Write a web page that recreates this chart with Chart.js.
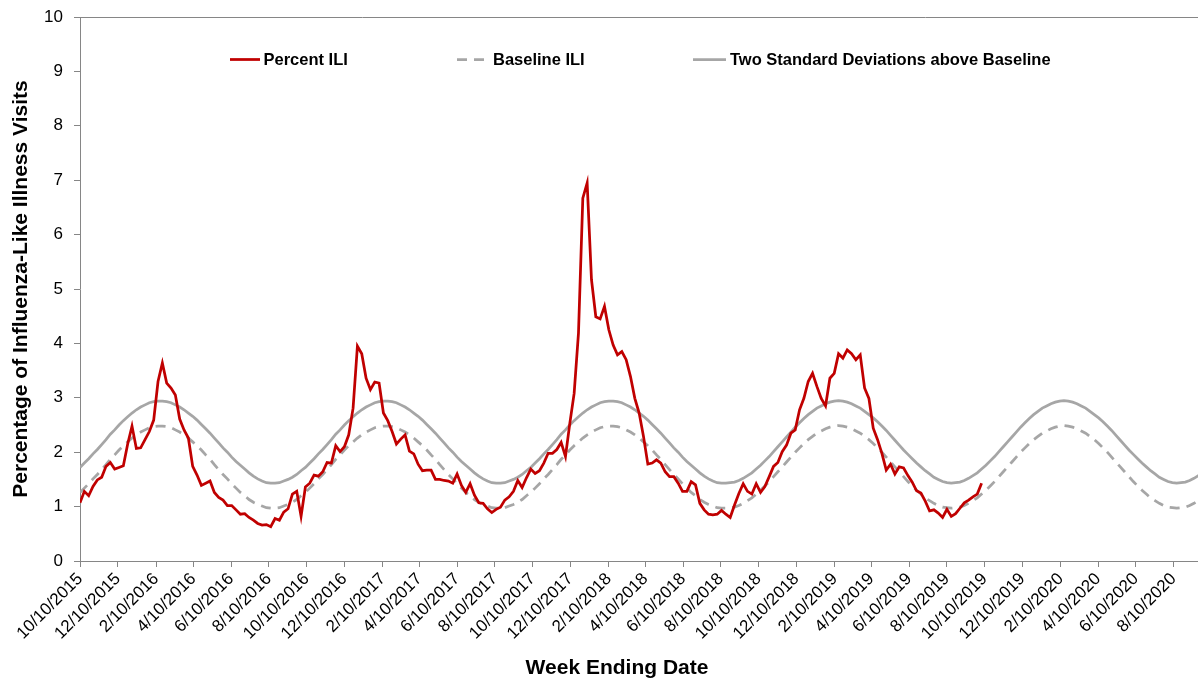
<!DOCTYPE html>
<html>
<head>
<meta charset="utf-8">
<title>Percentage of Influenza-Like Illness Visits</title>
<script src="https://cdn.jsdelivr.net/npm/chart.js@4.4.1/dist/chart.umd.min.js"></script>
<style>
  html, body { margin: 0; padding: 0; background: #ffffff; overflow: hidden; }
  #wrap { position: relative; width: 1198px; height: 680px; overflow: hidden; }
  canvas { display: block; }
</style>
</head>
<body>
<div id="wrap"><canvas id="ili" width="1217" height="680" style="width:1217px;height:680px"></canvas></div>
<script>
// First week-ending date of the weekly series; every following point is 7 days later.
const firstWeekEnding = '10/10/2015';
const lastAxisWeek = 260;

// Date labels shown on the horizontal axis.
const tickLabels = [
  '10/10/2015', '12/10/2015', '2/10/2016', '4/10/2016', '6/10/2016', '8/10/2016',
  '10/10/2016', '12/10/2016', '2/10/2017', '4/10/2017', '6/10/2017', '8/10/2017',
  '10/10/2017', '12/10/2017', '2/10/2018', '4/10/2018', '6/10/2018', '8/10/2018',
  '10/10/2018', '12/10/2018', '2/10/2019', '4/10/2019', '6/10/2019', '8/10/2019',
  '10/10/2019', '12/10/2019', '2/10/2020', '4/10/2020', '6/10/2020', '8/10/2020'
];

// Weekly percentage of visits for influenza-like illness.
const percentIli = [
  1.07, 1.28, 1.20, 1.37, 1.49, 1.54, 1.74, 1.81, 1.69, 1.72,
  1.75, 2.15, 2.48, 2.07, 2.08, 2.23, 2.38, 2.59, 3.30, 3.64,
  3.27, 3.18, 3.05, 2.61, 2.41, 2.26, 1.74, 1.58, 1.39, 1.43,
  1.47, 1.26, 1.17, 1.12, 1.02, 1.02, 0.94, 0.86, 0.87, 0.80,
  0.75, 0.69, 0.66, 0.67, 0.63, 0.78, 0.75, 0.90, 0.96, 1.23,
  1.28, 0.82, 1.36, 1.43, 1.58, 1.56, 1.64, 1.81, 1.80, 2.12,
  2.01, 2.10, 2.32, 2.81, 3.95, 3.81, 3.36, 3.15, 3.29, 3.27,
  2.72, 2.58, 2.38, 2.15, 2.24, 2.32, 2.02, 1.97, 1.78, 1.66,
  1.67, 1.67, 1.50, 1.50, 1.48, 1.47, 1.43, 1.60, 1.39, 1.26,
  1.42, 1.21, 1.07, 1.06, 0.96, 0.89, 0.95, 0.99, 1.12, 1.18,
  1.28, 1.48, 1.35, 1.53, 1.69, 1.61, 1.66, 1.80, 1.98, 1.98,
  2.05, 2.18, 1.92, 2.53, 3.08, 4.19, 6.67, 6.95, 5.17, 4.49,
  4.45, 4.68, 4.25, 3.97, 3.79, 3.85, 3.70, 3.39, 2.99, 2.72,
  2.29, 1.78, 1.80, 1.86, 1.80, 1.64, 1.55, 1.55, 1.43, 1.28,
  1.28, 1.46, 1.40, 1.06, 0.94, 0.86, 0.85, 0.86, 0.93, 0.86,
  0.80, 1.03, 1.24, 1.42, 1.28, 1.23, 1.42, 1.26, 1.37, 1.55,
  1.74, 1.81, 2.01, 2.13, 2.35, 2.41, 2.78, 2.99, 3.30, 3.45,
  3.21, 2.99, 2.85, 3.36, 3.45, 3.81, 3.73, 3.88, 3.81, 3.70,
  3.79, 3.18, 2.99, 2.44, 2.23, 1.98, 1.67, 1.78, 1.60, 1.73,
  1.71, 1.57, 1.45, 1.29, 1.25, 1.10, 0.92, 0.94, 0.88, 0.80,
  0.95, 0.82, 0.87, 0.97, 1.07, 1.12, 1.18, 1.23, 1.43
];

// Weekly baseline percentage of ILI visits.
const baselineIli = [
  1.26, 1.34, 1.42, 1.51, 1.59, 1.68, 1.77, 1.87, 1.95, 2.04, 2.12, 2.19, 2.26, 2.32, 2.37, 2.41, 2.45, 2.47, 2.48,
  2.48, 2.47, 2.45, 2.41, 2.37, 2.32, 2.26, 2.19, 2.12, 2.04, 1.95, 1.87, 1.77, 1.68, 1.59, 1.51, 1.42, 1.34, 1.26, 1.20, 1.13, 1.08, 1.04, 1.01, 0.98, 0.97,
  0.97, 0.98, 1.01, 1.04, 1.08, 1.13, 1.20, 1.26, 1.34, 1.42, 1.51, 1.59, 1.68, 1.77, 1.87, 1.95, 2.04, 2.12, 2.19, 2.26, 2.32, 2.37, 2.41, 2.45, 2.47, 2.48,
  2.48, 2.47, 2.45, 2.41, 2.37, 2.32, 2.26, 2.19, 2.12, 2.04, 1.95, 1.87, 1.77, 1.68, 1.59, 1.51, 1.42, 1.34, 1.26, 1.20, 1.13, 1.08, 1.04, 1.01, 0.98, 0.97,
  0.97, 0.98, 1.01, 1.04, 1.08, 1.13, 1.20, 1.26, 1.34, 1.42, 1.51, 1.59, 1.68, 1.77, 1.87, 1.95, 2.04, 2.12, 2.19, 2.26, 2.32, 2.37, 2.41, 2.45, 2.47, 2.48,
  2.48, 2.47, 2.45, 2.41, 2.37, 2.32, 2.26, 2.19, 2.12, 2.04, 1.95, 1.87, 1.77, 1.68, 1.59, 1.51, 1.42, 1.34, 1.26, 1.20, 1.13, 1.08, 1.04, 1.01, 0.98, 0.97,
  0.97, 0.98, 0.99, 1.02, 1.06, 1.11, 1.16, 1.23, 1.30, 1.38, 1.46, 1.55, 1.64, 1.73, 1.82, 1.91, 2.00, 2.08, 2.16, 2.23, 2.29, 2.35, 2.39, 2.43, 2.46, 2.48, 2.49,
  2.48, 2.46, 2.43, 2.39, 2.35, 2.29, 2.23, 2.16, 2.08, 2.00, 1.91, 1.82, 1.73, 1.64, 1.55, 1.46, 1.38, 1.30, 1.23, 1.16, 1.11, 1.06, 1.02, 0.99, 0.98, 0.97,
  0.98, 0.99, 1.02, 1.06, 1.11, 1.16, 1.23, 1.30, 1.38, 1.46, 1.55, 1.64, 1.73, 1.82, 1.91, 2.00, 2.08, 2.16, 2.23, 2.29, 2.35, 2.39, 2.43, 2.46, 2.48, 2.49,
  2.48, 2.46, 2.43, 2.39, 2.35, 2.29, 2.23, 2.16, 2.08, 2.00, 1.91, 1.82, 1.73, 1.64, 1.55, 1.46, 1.38, 1.30, 1.23, 1.16, 1.11, 1.06, 1.02, 0.99, 0.98, 0.97,
  0.98, 0.99, 1.02, 1.06, 1.11, 1.16, 1.23
];

// Weekly threshold: two standard deviations above the baseline.
const thresholdIli = [
  1.72, 1.80, 1.88, 1.97, 2.05, 2.14, 2.23, 2.33, 2.41, 2.50, 2.58, 2.65, 2.72, 2.78, 2.83, 2.87, 2.91, 2.93, 2.94,
  2.94, 2.93, 2.91, 2.87, 2.83, 2.78, 2.72, 2.66, 2.59, 2.51, 2.43, 2.35, 2.26, 2.17, 2.08, 2.00, 1.91, 1.83, 1.76, 1.69, 1.62, 1.56, 1.51, 1.47, 1.44, 1.43,
  1.43, 1.44, 1.47, 1.50, 1.54, 1.59, 1.66, 1.72, 1.80, 1.88, 1.97, 2.05, 2.14, 2.23, 2.33, 2.41, 2.50, 2.58, 2.65, 2.72, 2.78, 2.83, 2.87, 2.91, 2.93, 2.94,
  2.94, 2.93, 2.91, 2.87, 2.83, 2.78, 2.72, 2.66, 2.59, 2.51, 2.43, 2.35, 2.26, 2.17, 2.08, 2.00, 1.91, 1.83, 1.76, 1.69, 1.62, 1.56, 1.51, 1.47, 1.44, 1.43,
  1.43, 1.44, 1.47, 1.50, 1.54, 1.59, 1.66, 1.72, 1.80, 1.88, 1.97, 2.05, 2.14, 2.23, 2.33, 2.41, 2.50, 2.58, 2.65, 2.72, 2.78, 2.83, 2.87, 2.91, 2.93, 2.94,
  2.94, 2.93, 2.91, 2.87, 2.83, 2.78, 2.72, 2.66, 2.59, 2.51, 2.43, 2.35, 2.26, 2.17, 2.08, 2.00, 1.91, 1.83, 1.76, 1.69, 1.62, 1.56, 1.51, 1.47, 1.44, 1.43,
  1.43, 1.44, 1.45, 1.48, 1.52, 1.57, 1.62, 1.69, 1.76, 1.84, 1.92, 2.01, 2.10, 2.19, 2.28, 2.37, 2.46, 2.54, 2.62, 2.69, 2.75, 2.81, 2.85, 2.89, 2.92, 2.94, 2.95,
  2.94, 2.92, 2.89, 2.85, 2.81, 2.75, 2.69, 2.63, 2.56, 2.48, 2.40, 2.31, 2.22, 2.13, 2.04, 1.96, 1.88, 1.80, 1.73, 1.66, 1.60, 1.54, 1.50, 1.46, 1.44, 1.43,
  1.44, 1.45, 1.48, 1.52, 1.57, 1.62, 1.69, 1.76, 1.84, 1.92, 2.01, 2.10, 2.19, 2.28, 2.37, 2.46, 2.54, 2.62, 2.69, 2.75, 2.81, 2.85, 2.89, 2.92, 2.94, 2.95,
  2.94, 2.92, 2.89, 2.85, 2.81, 2.75, 2.69, 2.63, 2.56, 2.48, 2.40, 2.31, 2.22, 2.13, 2.04, 1.96, 1.88, 1.80, 1.73, 1.66, 1.60, 1.54, 1.50, 1.46, 1.44, 1.43,
  1.44, 1.45, 1.48, 1.52, 1.57, 1.62, 1.69
];

const AXIS_GREY = '#868686';
const ILI_RED = '#C00000';
const BASE_GREY = '#A6A6A6';
const FONT = "'Liberation Sans', Arial, Helvetica, sans-serif";

// Days elapsed since the first week-ending date.
function parseMdy(s) {
  const [m, d, y] = s.split('/').map(Number);
  return Date.UTC(y, m - 1, d);
}
const startMs = parseMdy(firstWeekEnding);
const daysFromStart = s => Math.round((parseMdy(s) - startMs) / 86400000);

const tickDays = tickLabels.map(daysFromStart);
const labelByDay = new Map(tickDays.map((d, i) => [d, tickLabels[i]]));

const weekly = values => values.map((v, i) => ({ x: i * 7, y: v }));

// Legend row drawn inside the plot area, plus the horizontal axis title.
const legendSlots = [
  { from: 230, to: 260, textX: 263.5 },
  { from: 457, to: 487, textX: 493 },
  { from: 693, to: 726, textX: 730 }
];

const annotations = {
  id: 'annotations',
  afterDraw(chart) {
    const ctx = chart.ctx;
    ctx.save();
    chart.data.datasets.forEach((ds, i) => {
      const slot = legendSlots[i];
      ctx.beginPath();
      ctx.setLineDash(ds.borderDash || []);
      ctx.lineCap = 'butt';
      ctx.strokeStyle = ds.borderColor;
      ctx.lineWidth = ds.borderWidth;
      ctx.moveTo(slot.from, 59.5);
      ctx.lineTo(slot.to, 59.5);
      ctx.stroke();
      ctx.setLineDash([]);
      ctx.fillStyle = '#000000';
      ctx.font = 'bold 16.5px ' + FONT;
      ctx.textAlign = 'left';
      ctx.textBaseline = 'alphabetic';
      ctx.fillText(ds.label, slot.textX, 64.5);
    });
    ctx.fillStyle = '#000000';
    ctx.font = 'bold 21px ' + FONT;
    ctx.textAlign = 'center';
    ctx.textBaseline = 'alphabetic';
    ctx.fillText('Week Ending Date', 617, 674);
    ctx.restore();
  }
};

Chart.defaults.font.family = FONT;
Chart.defaults.color = '#000000';

new Chart(document.getElementById('ili'), {
  type: 'line',
  data: {
    datasets: [
      {
        label: 'Percent ILI',
        data: weekly(percentIli),
        borderColor: ILI_RED,
        borderWidth: 2.75,
        pointRadius: 0,
        tension: 0,
        fill: false
      },
      {
        label: 'Baseline ILI',
        data: weekly(baselineIli),
        borderColor: BASE_GREY,
        borderWidth: 2.75,
        borderDash: [10, 7],
        pointRadius: 0,
        tension: 0,
        fill: false
      },
      {
        label: 'Two Standard Deviations above Baseline',
        data: weekly(thresholdIli),
        borderColor: BASE_GREY,
        borderWidth: 2.75,
        pointRadius: 0,
        tension: 0,
        fill: false
      }
    ]
  },
  options: {
    responsive: false,
    animation: false,
    events: [],
    layout: { padding: { top: 17, right: 10, left: 0, bottom: 0 } },
    plugins: {
      legend: { display: false },
      tooltip: { enabled: false },
      title: { display: false }
    },
    scales: {
      x: {
        type: 'linear',
        min: 0,
        max: lastAxisWeek * 7,
        afterFit(scale) { scale.height = 119; },
        afterBuildTicks(scale) { scale.ticks = tickDays.map(v => ({ value: v })); },
        grid: { drawOnChartArea: false, drawTicks: true, tickLength: 6, tickColor: AXIS_GREY, color: AXIS_GREY },
        border: { display: true, color: AXIS_GREY, width: 1 },
        ticks: {
          autoSkip: false,
          minRotation: 45,
          maxRotation: 45,
          padding: 2,
          color: '#000000',
          font: { size: 17 },
          callback(value) { return labelByDay.get(value) || ''; }
        }
      },
      y: {
        min: 0,
        max: 10,
        afterFit(scale) {
          scale.width = 80;
          scale.paddingTop = 0;
          scale.paddingBottom = 0;
        },
        ticks: { stepSize: 1, padding: 11, color: '#000000', font: { size: 17 } },
        grid: {
          color: c => (c.tick && c.tick.value === 10 ? AXIS_GREY : 'rgba(0,0,0,0)'),
          tickColor: AXIS_GREY,
          tickLength: 6,
          drawTicks: true
        },
        border: { display: true, color: AXIS_GREY, width: 1 },
        title: {
          display: true,
          text: 'Percentage of Influenza-Like Illness Visits',
          color: '#000000',
          font: { size: 21, weight: 'bold' },
          padding: { top: 9, bottom: 4 }
        }
      }
    }
  },
  plugins: [annotations]
});
</script>
</body>
</html>
